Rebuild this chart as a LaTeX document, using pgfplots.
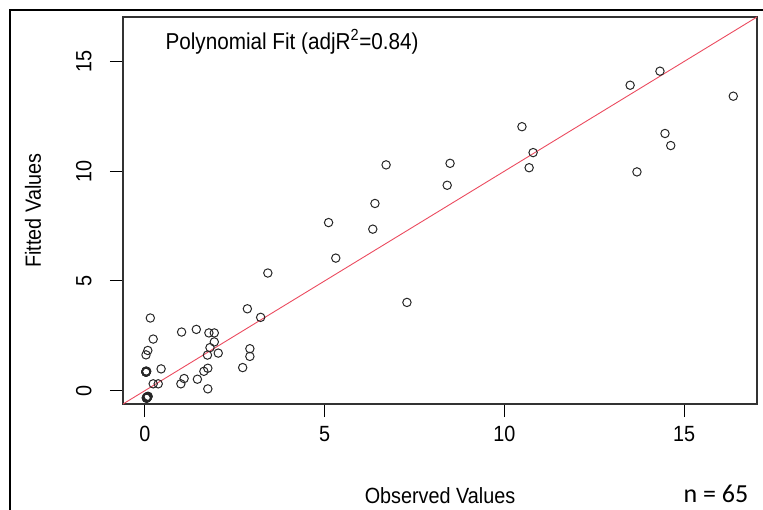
\documentclass[border=0pt]{standalone}
\usepackage{pgfplots}
\pgfplotsset{compat=1.18}
\usepackage{fontspec}
\setmainfont[FakeStretch=0.9]{Liberation Sans}
\newfontfamily\calib{Carlito}
\pgfplotstableread{
x y
6.71 10.29
8.49 10.36
6.40 8.53
5.11 7.66
6.34 7.36
8.41 9.36
5.31 6.04
10.49 12.03
10.80 10.85
10.69 10.16
13.50 13.92
14.33 14.56
16.37 13.42
14.47 11.72
14.63 11.17
13.69 9.97
3.42 5.36
7.29 4.02
0.15 3.31
0.23 2.35
0.08 1.83
0.03 1.63
0.03 0.89
0.03 0.84
0.45 0.99
1.02 2.67
1.43 2.79
1.78 2.63
1.93 2.63
1.93 2.22
1.81 1.96
2.04 1.71
1.74 1.62
1.75 1.02
1.64 0.88
1.46 0.52
1.09 0.55
1.00 0.31
0.37 0.31
0.23 0.31
1.75 0.08
0.09 -0.26
0.05 -0.35
2.85 3.73
3.22 3.34
2.92 1.91
2.92 1.56
2.72 1.05
0.03 0.86
0.04 0.87
0.05 -0.33
0.06 -0.30
0.08 -0.28
0.04 -0.34
0.03 0.85
0.05 0.88
0.03 0.84
0.04 -0.32
0.07 -0.27
0.05 -0.31
0.03 0.87
0.04 0.86
0.06 -0.29
0.05 -0.33
0.03 0.85
}\datatable
\begin{document}
\begin{tikzpicture}[x=1pt,y=1pt]
\useasboundingbox (0,0) rectangle (763,509);
\draw[line width=2pt] (10,-20) rectangle (800,499);
\begin{axis}[
  at={(123pt,105pt)}, anchor=south west,
  scale only axis, width=634pt, height=387pt,
  xmin=-0.61, xmax=17.03, ymin=-0.61, ymax=17.03,
  xtick={0,5,10,15}, ytick={0,5,10,15},
  minor tick num=0,
  xtick pos=bottom, ytick pos=left,
  tick align=outside, major tick length=13pt,
  tick style={black, line width=1pt},
  axis line style={line width=1.2pt, black!80},
  /pgf/number format/assume math mode=true,
  ticklabel style={font=\fontsize{22}{22}\selectfont},
  xticklabel style={yshift=-6pt},
  yticklabel style={rotate=90, anchor=south, yshift=15pt},
  xlabel={Observed Values}, ylabel={Fitted Values},
  label style={font=\fontsize{22}{22}\selectfont},
  xlabel style={at={([yshift=-92pt]rel axis cs:0.5,0)}, anchor=center},
  ylabel style={at={([xshift=-90pt]rel axis cs:0,0.5)}, anchor=center},
  clip=true,
]
\addplot[draw={rgb,255:red,235;green,75;blue,95}, line width=0.9pt] coordinates {(-1,-1) (18,18)};
\addplot[only marks, mark=o, mark size=4.2pt, mark options={line width=1pt, black!85}] table[x=x,y=y] {\datatable};
\node[anchor=west, font=\fontsize{23}{23}\selectfont] at (rel axis cs:0.0615,0.935) {Polynomial Fit (adjR\textsuperscript{2}=0.84)};
\end{axis}
\node[font=\calib\fontsize{26}{26}\selectfont] at (716,15) {n = 65};
\end{tikzpicture}
\end{document}
